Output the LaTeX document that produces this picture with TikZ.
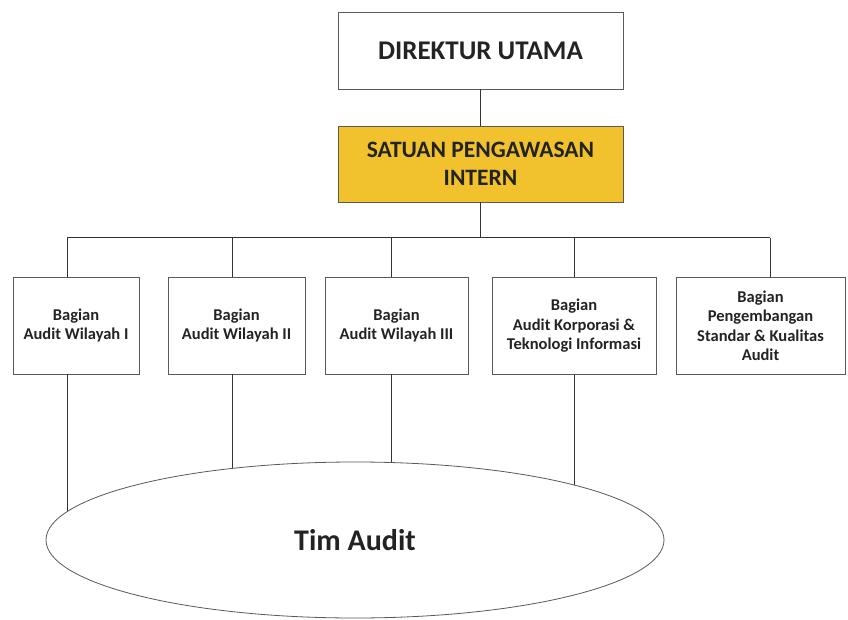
\documentclass[tikz,border=0pt]{standalone}
\usepackage{fontspec}
\setmainfont{Carlito}
\usetikzlibrary{shapes.geometric}
\definecolor{spiyellow}{RGB}{242,193,46}
\definecolor{ink}{RGB}{35,35,35}
\begin{document}
\begin{tikzpicture}[x=1pt,y=-1pt,
  every node/.style={inner sep=0pt, align=center, text=ink},
  bigbox/.style={draw=black!65, line width=0.9pt, minimum width=285pt, font=\bfseries\fontsize{23.5}{28}\selectfont},
  unitbox/.style={draw=black!65, line width=0.8pt, minimum height=97pt, font=\bfseries\fontsize{16.5}{19.5}\selectfont},
  conn/.style={draw=black!80, line width=1pt}]
\useasboundingbox (0,0) rectangle (848,620);
% top boxes
\node[bigbox, minimum height=77pt, font=\bfseries\fontsize{27}{30}\selectfont] (dir) at (480.5,50.5) {DIREKTUR UTAMA};
\node[bigbox, minimum height=76pt, fill=spiyellow] (spi) at (480.5,164) {SATUAN PENGAWASAN\\INTERN};
% unit boxes
\node[unitbox, minimum width=126pt] (b1) at (76,325.5) {Bagian\\Audit Wilayah I};
\node[unitbox, minimum width=137pt] (b2) at (236.5,325.5) {Bagian\\Audit Wilayah II};
\node[unitbox, minimum width=143pt] (b3) at (396.5,325.5) {Bagian\\Audit Wilayah III};
\node[unitbox, minimum width=164pt] (b4) at (574,326) {Bagian\\Audit Korporasi \&\\Teknologi Informasi};
\node[unitbox, minimum width=169pt] (b5) at (760.5,326) {Bagian\\Pengembangan\\Standar \& Kualitas\\Audit};
% bus coordinates
\coordinate (k1) at (67,238);
\coordinate (k2) at (232,238);
\coordinate (k3) at (391,238);
\coordinate (k4) at (574,238);
\coordinate (k5) at (770,238);
\coordinate (tc) at (355,540);
% connectors
\draw[conn] (dir.south) -- (spi.north);
\draw[conn] (spi.south) -- (spi.south |- k1);
\draw[conn] (k1) -- (k5);
\draw[conn] (k1) -- (k1 |- b1.north);
\draw[conn] (k2) -- (k2 |- b2.north);
\draw[conn] (k3) -- (k3 |- b3.north);
\draw[conn] (k4) -- (k4 |- b4.north);
\draw[conn] (k5) -- (k5 |- b5.north);
\draw[conn] (k1 |- b1.south) -- (k1 |- tc);
\draw[conn] (k2 |- b2.south) -- (k2 |- tc);
\draw[conn] (k3 |- b3.south) -- (k3 |- tc);
\draw[conn] (k4 |- b4.south) -- (k4 |- tc);
% ellipse
\node[ellipse, draw=black!65, line width=0.8pt, fill=white, minimum width=618pt, minimum height=156pt, font=\bfseries\fontsize{30}{34}\selectfont] (tim) at (tc) {Tim Audit};
\end{tikzpicture}
\end{document}
